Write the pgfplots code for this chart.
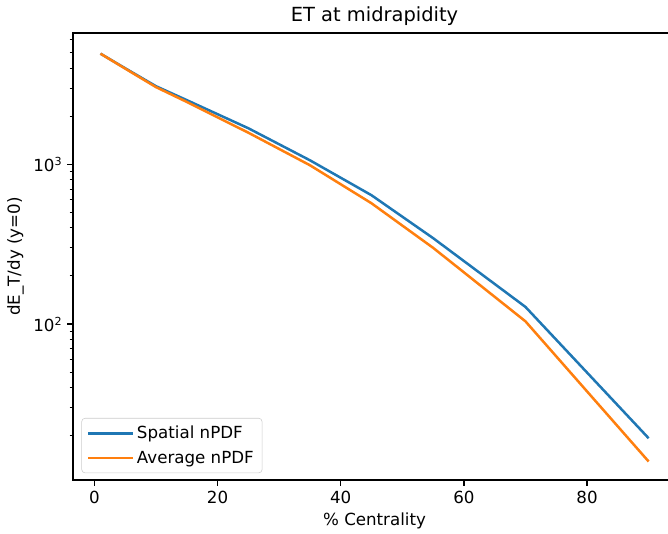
\documentclass[border=0pt]{standalone}
\usepackage{fontspec}
\setmainfont{DejaVu Sans}
\usepackage{pgfplots}
\pgfplotsset{compat=1.18}
\definecolor{mplblue}{HTML}{1F77B4}
\definecolor{mplorange}{HTML}{FF7F0E}

\begin{document}
\begin{tikzpicture}
\begin{axis}[
    scale only axis,
    width=434pt, height=321.8pt,
    ymode=log,
    xmin=-3.45, xmax=94.45,
    ymin=10.55, ymax=6620,
    xtick={0,20,40,60,80},
    ytick={100,1000},
    yticklabels={10\textsuperscript{2},10\textsuperscript{3}},
    minor ytick={20,30,40,50,60,70,80,90,200,300,400,500,600,700,800,900,2000,3000,4000,5000,6000},
    xtick pos=bottom, ytick pos=left,
    tick align=outside,
    major tick length=4.2pt, minor tick length=2.4pt,
    every tick/.style={black, line width=0.95pt},
    minor tick style={line width=0.7pt},
    axis line style={line width=0.95pt},
    /pgf/number format/assume math mode=true,
    ticklabel style={font=\fontsize{12}{14}\selectfont},
    xlabel={\% Centrality},
    ylabel={dE\_T/dy (y=0)},
    label style={font=\fontsize{12}{14}\selectfont},
    title={ET at midrapidity},
    title style={font=\fontsize{14}{17}\selectfont, yshift=-4pt},
    legend style={at={(axis description cs:0,0)}, anchor=south west,
        xshift=6pt, yshift=5pt, draw=black!20, rounded corners=2.5pt,
        font=\fontsize{12}{14}\selectfont, inner xsep=4pt, inner ysep=3.5pt,
        row sep=3.5pt},
    legend cell align=left,
    legend image code/.code={\draw[#1, line width=1.8pt] (0pt,0pt) -- (25pt,0pt);
        \path (0pt,0pt) -- (32pt,0pt);},
]
\addplot[mplblue, line width=1.8pt] coordinates {
    (1,4920) (5,3990) (10,3080) (15,2520) (25,1680) (35,1059)
    (45,640) (55,345) (70,128) (90,19.3)};
\addlegendentry{Spatial nPDF}
\addplot[mplorange, line width=1.8pt] coordinates {
    (1,4920) (5,3970) (10,3040) (15,2455) (25,1576) (35,986)
    (45,570) (55,300) (70,104) (90,13.8)};
\addlegendentry{Average nPDF}
\end{axis}
\pgfresetboundingbox
\path ([shift={(-52.6pt,-38.2pt)}]current axis.south west)
    rectangle ([shift={(-5.8pt,23.8pt)}]current axis.north east);
\end{tikzpicture}
\end{document}
